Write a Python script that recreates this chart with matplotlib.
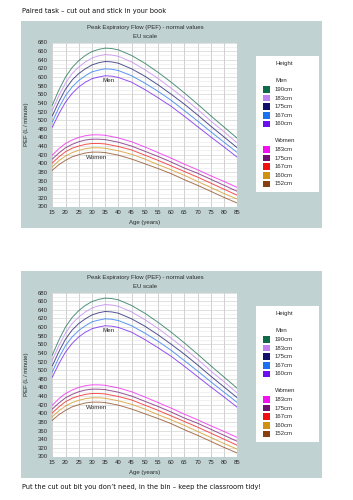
import matplotlib
matplotlib.use("Agg")
import matplotlib.pyplot as plt
from matplotlib.patches import Rectangle

W, H = 353, 500

ages = [15, 17.5, 20, 22.5, 25, 27.5, 30, 32.5, 35, 37.5, 40, 45, 50, 55, 60, 65, 70, 75, 80, 85]

men_labels = ["190cm", "183cm", "175cm", "167cm", "160cm"]
men_colors = ["#0e6b4a", "#c080f0", "#10106a", "#1a70f0", "#6a10f0"]
men_190 = [535, 570, 600, 622, 638, 650, 659, 664, 667, 666, 663, 650, 632, 611, 588, 563, 537, 510, 484, 458]
men_183 = [523, 557, 586, 608, 623, 635, 644, 649, 652, 651, 648, 635, 617, 597, 574, 550, 525, 498, 473, 447]
men_175 = [510, 543, 572, 593, 608, 619, 628, 633, 636, 635, 632, 619, 602, 582, 560, 537, 512, 486, 461, 436]
men_167 = [496, 529, 557, 577, 592, 603, 612, 616, 619, 618, 615, 603, 586, 567, 546, 522, 498, 473, 449, 425]
men_160 = [484, 515, 542, 562, 577, 588, 596, 600, 603, 602, 599, 588, 571, 552, 532, 509, 485, 461, 438, 414]
men_series = [men_190, men_183, men_175, men_167, men_160]

women_labels = ["183cm", "175cm", "167cm", "160cm", "152cm"]
women_colors = ["#f010f0", "#701070", "#f01010", "#d09010", "#884010"]
women_183 = [419, 434, 446, 454, 460, 464, 466, 466, 465, 462, 459, 450, 438, 425, 412, 398, 385, 371, 358, 344]
women_175 = [410, 424, 436, 444, 450, 454, 456, 456, 455, 452, 449, 440, 428, 416, 403, 389, 377, 363, 349, 335]
women_167 = [401, 415, 427, 435, 440, 444, 446, 446, 445, 442, 439, 431, 419, 407, 394, 381, 368, 354, 340, 326]
women_160 = [392, 406, 417, 425, 430, 434, 436, 436, 435, 432, 429, 421, 410, 397, 385, 372, 358, 344, 330, 317]
women_152 = [384, 397, 407, 415, 420, 424, 426, 426, 425, 422, 419, 410, 399, 388, 376, 362, 349, 335, 321, 308]
women_series = [women_183, women_175, women_167, women_160, women_152]

x_ticks = list(range(15, 90, 5))
y_ticks = list(range(300, 700, 20))

title = "Peak Expiratory Flow (PEF) - normal values"
subtitle = "EU scale"
top_text = "Paired task \u2013 cut out and stick in your book"
bottom_text = "Put the cut out bit you don\u2019t need, in the bin \u2013 keep the classroom tidy!"

PANEL = "#c0d2d2"
CF = ["Liberation Sans", "DejaVu Sans"]
FS = 4.3
TXT = "#2a2a2a"

fig = plt.figure(figsize=(W / 100, H / 100), dpi=100)


def fx(px):
    return px / W


def fy(py):
    return 1 - py / H


def draw_panel(top):
    fig.patches.append(Rectangle((fx(21), fy(top + 207)), fx(301), 207 / H,
                                 transform=fig.transFigure, facecolor=PANEL,
                                 edgecolor="none", zorder=-5))
    ax_top = top + 21.5
    ax_bot = top + 185.5
    ax = fig.add_axes([fx(52.3), fy(ax_bot), fx(185), (ax_bot - ax_top) / H])
    ax.set_zorder(2)
    ax.set_facecolor("white")
    for s in ax.spines.values():
        s.set_visible(False)
    ax.set_xlim(15, 85)
    ax.set_ylim(300, 680)
    ax.set_xticks(x_ticks)
    ax.set_yticks(y_ticks)
    ax.set_yticks(list(range(310, 680, 20)), minor=True)
    ax.tick_params(which="both", length=0, labelsize=FS, colors=TXT)
    ax.tick_params(axis="y", pad=3.2)
    ax.tick_params(axis="x", pad=2.2)
    for lab in ax.get_xticklabels() + ax.get_yticklabels():
        lab.set_family(CF)
    ax.grid(True, axis="x", color="#c8c8c8", linewidth=0.6)
    ax.grid(True, axis="y", which="major", color="#d4d4d4", linewidth=0.5)
    ax.grid(True, axis="y", which="minor", color="#e6e6e6", linewidth=0.4)
    ax.set_axisbelow(True)
    for ser, col in zip(men_series, men_colors):
        ax.plot(ages, ser, color=col, linewidth=0.7, alpha=0.72)
    for ser, col in zip(women_series, women_colors):
        ax.plot(ages, ser, color=col, linewidth=0.7, alpha=0.72)
    ax.text(36.2, 591, "Men", fontsize=FS + 0.2, family=CF, ha="center", va="center", color=TXT)
    ax.text(31.8, 413, "Women", fontsize=FS + 0.2, family=CF, ha="center", va="center", color=TXT)
    ax.set_xlabel("Age (years)", fontsize=FS, family=CF, labelpad=4, color=TXT)
    ax.set_ylabel("PEF (L / minute)", fontsize=FS, family=CF, labelpad=6, color=TXT)

    fig.text(fx(145), fy(top + 6), title, fontsize=FS, family=CF, ha="center", va="center", color=TXT)
    fig.text(fx(145), fy(top + 15.5), subtitle, fontsize=FS, family=CF, ha="center", va="center", color=TXT)

    lt = top + 35
    fig.patches.append(Rectangle((fx(256), fy(lt + 136)), fx(62.5), 136 / H,
                                 transform=fig.transFigure, facecolor="white",
                                 edgecolor="none", zorder=-4))
    tx = 275
    fig.text(fx(tx), fy(lt + 7.5), "Height", fontsize=FS, family=CF, va="center", color=TXT, zorder=3)
    fig.text(fx(tx), fy(lt + 24.5), "Men", fontsize=FS, family=CF, va="center", color=TXT, zorder=3)
    for i, (lab, col) in enumerate(zip(men_labels, men_colors)):
        yc = lt + 33.5 + i * 8.6
        fig.patches.append(Rectangle((fx(262.7), fy(yc + 3.3)), fx(6.8), 6.6 / H,
                                     transform=fig.transFigure, facecolor=col,
                                     edgecolor="none", zorder=-3))
        fig.text(fx(tx), fy(yc), lab, fontsize=FS, family=CF, va="center", color=TXT, zorder=3)
    fig.text(fx(tx), fy(lt + 84.5), "Women", fontsize=FS, family=CF, va="center", color=TXT, zorder=3)
    for i, (lab, col) in enumerate(zip(women_labels, women_colors)):
        yc = lt + 93.5 + i * 8.6
        fig.patches.append(Rectangle((fx(262.7), fy(yc + 3.3)), fx(6.8), 6.6 / H,
                                     transform=fig.transFigure, facecolor=col,
                                     edgecolor="none", zorder=-3))
        fig.text(fx(tx), fy(yc), lab, fontsize=FS, family=CF, va="center", color=TXT, zorder=3)


draw_panel(21)
draw_panel(271)

fig.text(fx(21.5), fy(10.5), top_text, fontsize=4.75, family="DejaVu Sans", va="center", color="#111111")
fig.text(fx(21.5), fy(487), bottom_text, fontsize=4.75, family="DejaVu Sans", va="center", color="#111111")

fig.savefig("out.png", dpi=100)
